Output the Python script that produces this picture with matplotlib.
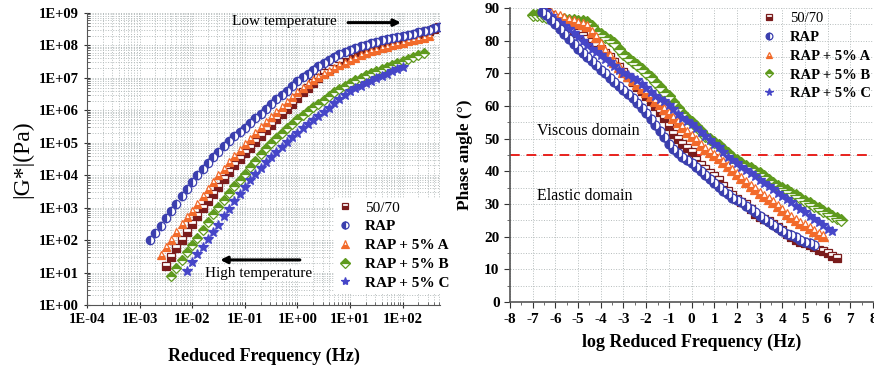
import numpy as np
import matplotlib.pyplot as plt
from matplotlib.ticker import LogLocator, MultipleLocator, NullFormatter

plt.rcParams['font.family'] = ['Liberation Serif', 'DejaVu Serif']
plt.rcParams['axes.unicode_minus'] = False

# ---- 左图: |G*| 主曲线 (log10 频率, log10 G*) ----
labels = ['50/70', 'RAP', 'RAP + 5% A', 'RAP + 5% B', 'RAP + 5% C']

g_logf_5070 = [-2.5, -2.4, -2.3, -2.2, -2.1, -2.0, -1.9, -1.8, -1.7, -1.6, -1.5, -1.4, -1.3, -1.2,
               -1.1, -1.0, -0.9, -0.8, -0.7, -0.6, -0.5, -0.4, -0.3, -0.2, -0.1, 0.0, 0.1, 0.2,
               0.3, 0.4, 0.5, 0.6, 0.7, 0.8, 0.9, 1.0, 1.1, 1.2, 1.3, 1.4, 1.5, 1.6, 1.7, 1.8,
               1.9, 2.0, 2.1, 2.2, 2.3, 2.4, 2.5, 2.6, 2.7]
g_logG_5070 = [1.20, 1.48, 1.75, 2.00, 2.25, 2.50, 2.75, 2.98, 3.20, 3.42, 3.65, 3.88, 4.10, 4.30,
               4.50, 4.68, 4.85, 5.02, 5.20, 5.38, 5.55, 5.72, 5.90, 6.05, 6.20, 6.38, 6.55, 6.70,
               6.85, 7.00, 7.15, 7.28, 7.40, 7.50, 7.60, 7.70, 7.78, 7.85, 7.92, 7.97, 8.02, 8.06,
               8.10, 8.14, 8.18, 8.22, 8.26, 8.30, 8.35, 8.40, 8.45, 8.50, 8.55]

g_logf_rap = [-2.8, -2.7, -2.6, -2.5, -2.4, -2.3, -2.2, -2.1, -2.0, -1.9, -1.8, -1.7, -1.6, -1.5,
              -1.4, -1.3, -1.2, -1.1, -1.0, -0.9, -0.8, -0.7, -0.6, -0.5, -0.4, -0.3, -0.2, -0.1,
              0.0, 0.1, 0.2, 0.3, 0.4, 0.5, 0.6, 0.7, 0.8, 0.9, 1.0, 1.1, 1.2, 1.3, 1.4, 1.5,
              1.6, 1.7, 1.8, 1.9, 2.0, 2.1, 2.2, 2.3, 2.4, 2.5, 2.6, 2.7]
g_logG_rap = [2.00, 2.22, 2.45, 2.68, 2.90, 3.12, 3.35, 3.58, 3.80, 4.00, 4.20, 4.38, 4.55, 4.73,
              4.90, 5.05, 5.20, 5.32, 5.45, 5.60, 5.75, 5.90, 6.05, 6.20, 6.35, 6.48, 6.60, 6.75,
              6.90, 7.01, 7.12, 7.24, 7.35, 7.45, 7.55, 7.64, 7.72, 7.80, 7.87, 7.92, 7.97, 8.02,
              8.07, 8.11, 8.15, 8.19, 8.22, 8.25, 8.28, 8.32, 8.36, 8.40, 8.44, 8.48, 8.52, 8.55]

g_logf_a = [-2.6, -2.5, -2.4, -2.3, -2.2, -2.1, -2.0, -1.9, -1.8, -1.7, -1.6, -1.5, -1.4, -1.3,
            -1.2, -1.1, -1.0, -0.9, -0.8, -0.7, -0.6, -0.5, -0.4, -0.3, -0.2, -0.1, 0.0, 0.1,
            0.2, 0.3, 0.4, 0.5, 0.6, 0.7, 0.8, 0.9, 1.0, 1.1, 1.2, 1.3, 1.4, 1.5, 1.6, 1.7,
            1.8, 1.9, 2.0, 2.1, 2.2, 2.3, 2.4, 2.5]
g_logG_a = [1.55, 1.78, 2.00, 2.25, 2.50, 2.70, 2.90, 3.12, 3.35, 3.58, 3.80, 4.00, 4.20, 4.40,
            4.60, 4.78, 4.95, 5.12, 5.30, 5.48, 5.65, 5.80, 5.95, 6.10, 6.25, 6.40, 6.55, 6.68,
            6.82, 6.92, 7.02, 7.11, 7.20, 7.29, 7.38, 7.46, 7.55, 7.62, 7.70, 7.76, 7.82, 7.87,
            7.92, 7.96, 8.00, 8.04, 8.08, 8.12, 8.16, 8.20, 8.24, 8.28]

g_logf_b = [-2.4, -2.3, -2.2, -2.1, -2.0, -1.9, -1.8, -1.7, -1.6, -1.5, -1.4, -1.3, -1.2, -1.1,
            -1.0, -0.9, -0.8, -0.7, -0.6, -0.5, -0.4, -0.3, -0.2, -0.1, 0.0, 0.1, 0.2, 0.3,
            0.4, 0.5, 0.6, 0.7, 0.8, 0.9, 1.0, 1.1, 1.2, 1.3, 1.4, 1.5, 1.6, 1.7, 1.8, 1.9,
            2.0, 2.1, 2.2, 2.3, 2.4]
g_logG_b = [0.90, 1.15, 1.40, 1.62, 1.85, 2.08, 2.32, 2.56, 2.80, 3.02, 3.25, 3.46, 3.68, 3.86,
            4.05, 4.25, 4.45, 4.65, 4.85, 5.00, 5.15, 5.30, 5.45, 5.58, 5.72, 5.85, 5.98, 6.09,
            6.20, 6.32, 6.45, 6.55, 6.65, 6.75, 6.85, 6.92, 7.00, 7.08, 7.15, 7.22, 7.28, 7.34,
            7.40, 7.46, 7.52, 7.58, 7.63, 7.69, 7.75]

g_logf_c = [-2.1, -2.0, -1.9, -1.8, -1.7, -1.6, -1.5, -1.4, -1.3, -1.2, -1.1, -1.0, -0.9, -0.8,
            -0.7, -0.6, -0.5, -0.4, -0.3, -0.2, -0.1, 0.0, 0.1, 0.2, 0.3, 0.4, 0.5, 0.6,
            0.7, 0.8, 0.9, 1.0, 1.1, 1.2, 1.3, 1.4, 1.5, 1.6, 1.7, 1.8, 1.9, 2.0]
g_logG_c = [1.05, 1.32, 1.57, 1.80, 2.03, 2.26, 2.48, 2.73, 2.97, 3.20, 3.42, 3.64, 3.85, 4.03,
            4.21, 4.40, 4.57, 4.73, 4.88, 5.03, 5.17, 5.30, 5.44, 5.57, 5.70, 5.82, 5.95, 6.08,
            6.22, 6.35, 6.48, 6.60, 6.68, 6.75, 6.83, 6.90, 6.98, 7.05, 7.13, 7.20, 7.27, 7.33]

# ---- 右图: 相位角 (log10 频率, 度) ----
p_logf_5070 = [-6.4, -6.2, -6.0, -5.8, -5.6, -5.4, -5.2, -5.0, -4.8, -4.6, -4.4, -4.2, -4.0, -3.8,
               -3.6, -3.4, -3.2, -3.0, -2.8, -2.6, -2.4, -2.2, -2.0, -1.8, -1.6, -1.4, -1.2, -1.0,
               -0.8, -0.6, -0.4, -0.2, 0.0, 0.2, 0.4, 0.6, 0.8, 1.0, 1.2, 1.4, 1.6, 1.8, 2.0, 2.2,
               2.4, 2.6, 2.8, 3.0, 3.2, 3.4, 3.6, 3.8, 4.0, 4.2, 4.4, 4.6, 4.8, 5.0, 5.2, 5.4,
               5.6, 5.8, 6.0, 6.2, 6.4]
p_delta_5070 = [88.8, 88.0, 87.0, 86.0, 85.0, 84.0, 83.0, 82.3, 81.5, 80.5, 79.5, 78.5, 77.5, 76.3,
                75.0, 73.5, 72.0, 70.5, 69.0, 67.5, 66.0, 64.5, 63.0, 61.5, 60.0, 58.3, 56.5, 54.0,
                51.5, 50.0, 48.5, 47.2, 46.0, 43.5, 42.0, 40.8, 39.5, 38.5, 37.5, 35.5, 34.0, 32.7,
                31.5, 30.7, 30.0, 28.5, 27.0, 26.2, 25.5, 24.7, 24.0, 23.0, 22.0, 20.8, 19.8, 19.1,
                18.5, 18.0, 17.5, 16.8, 16.0, 15.6, 15.0, 14.2, 13.5]

p_logf_rap = [-6.6, -6.4, -6.2, -6.0, -5.8, -5.6, -5.4, -5.2, -5.0, -4.8, -4.6, -4.4, -4.2, -4.0,
              -3.8, -3.6, -3.4, -3.2, -3.0, -2.8, -2.6, -2.4, -2.2, -2.0, -1.8, -1.6, -1.4, -1.2,
              -1.0, -0.8, -0.6, -0.4, -0.2, 0.0, 0.2, 0.4, 0.6, 0.8, 1.0, 1.2, 1.4, 1.6, 1.8, 2.0,
              2.2, 2.4, 2.6, 2.8, 3.0, 3.2, 3.4, 3.6, 3.8, 4.0, 4.2, 4.4, 4.6, 4.8, 5.0, 5.2, 5.4]
p_delta_rap = [88.8, 88.0, 86.5, 85.0, 83.5, 82.0, 80.5, 79.0, 77.5, 76.2, 75.0, 73.7, 72.5, 71.2,
               70.0, 68.7, 67.5, 66.2, 65.0, 63.7, 62.5, 61.0, 59.5, 57.8, 56.0, 54.2, 52.5, 50.5,
               48.5, 47.0, 45.5, 44.5, 43.5, 42.5, 41.5, 40.2, 39.0, 37.7, 36.5, 35.2, 34.0, 33.0,
               32.0, 31.2, 30.5, 29.5, 28.5, 27.5, 26.5, 25.5, 24.5, 23.6, 22.8, 21.9, 21.0, 20.4,
               19.8, 19.1, 18.5, 18.0, 17.6]

p_logf_a = [-6.2, -6.0, -5.8, -5.6, -5.4, -5.2, -5.0, -4.8, -4.6, -4.4, -4.2, -4.0, -3.8, -3.6,
            -3.4, -3.2, -3.0, -2.8, -2.6, -2.4, -2.2, -2.0, -1.8, -1.6, -1.4, -1.2, -1.0, -0.8,
            -0.6, -0.4, -0.2, 0.0, 0.2, 0.4, 0.6, 0.8, 1.0, 1.2, 1.4, 1.6, 1.8, 2.0, 2.2, 2.4,
            2.6, 2.8, 3.0, 3.2, 3.4, 3.6, 3.8, 4.0, 4.2, 4.4, 4.6, 4.8, 5.0, 5.2, 5.4, 5.6, 5.8]
p_delta_a = [88.5, 88.0, 87.5, 87.0, 86.5, 86.0, 85.5, 85.0, 84.5, 82.8, 81.0, 79.0, 77.0, 75.2,
             73.5, 72.0, 70.5, 69.2, 68.0, 66.7, 65.5, 64.2, 63.0, 61.7, 60.5, 59.2, 58.0, 56.5,
             55.0, 53.5, 52.0, 50.7, 49.5, 48.2, 47.0, 46.0, 45.0, 44.0, 43.0, 41.7, 40.5, 39.2,
             38.0, 36.7, 35.5, 34.5, 33.5, 32.5, 31.5, 30.5, 29.5, 28.2, 27.0, 26.0, 25.0, 24.2,
             23.5, 22.6, 21.8, 21.0, 20.2]

p_logf_b = [-7.0, -6.8, -6.6, -6.4, -6.2, -6.0, -5.8, -5.6, -5.4, -5.2, -5.0, -4.8, -4.6, -4.4,
            -4.2, -4.0, -3.8, -3.6, -3.4, -3.2, -3.0, -2.8, -2.6, -2.4, -2.2, -2.0, -1.8, -1.6,
            -1.4, -1.2, -1.0, -0.8, -0.6, -0.4, -0.2, 0.0, 0.2, 0.4, 0.6, 0.8, 1.0, 1.2, 1.4,
            1.6, 1.8, 2.0, 2.2, 2.4, 2.6, 2.8, 3.0, 3.2, 3.4, 3.6, 3.8, 4.0, 4.2, 4.4, 4.6,
            4.8, 5.0, 5.2, 5.4, 5.6, 5.8, 6.0, 6.2, 6.4, 6.6]
p_delta_b = [88.0, 87.8, 87.6, 87.4, 87.2, 87.0, 86.8, 86.6, 86.4, 86.3, 86.2, 86.0, 85.8, 84.4,
             83.0, 82.0, 81.0, 80.1, 79.2, 77.6, 76.0, 74.7, 73.5, 72.5, 71.5, 70.1, 68.8, 67.3,
             65.8, 64.4, 63.0, 61.2, 59.5, 58.0, 56.5, 55.2, 54.0, 52.5, 51.0, 50.0, 49.0, 48.0,
             47.0, 45.7, 44.5, 43.5, 42.5, 41.7, 41.0, 40.2, 39.5, 38.5, 37.5, 36.5, 35.5, 34.8,
             34.2, 33.5, 32.8, 31.9, 31.0, 30.2, 29.5, 28.7, 28.0, 27.2, 26.5, 25.7, 25.2]

p_logf_c = [-6.4, -6.2, -6.0, -5.8, -5.6, -5.4, -5.2, -5.0, -4.8, -4.6, -4.4, -4.2, -4.0, -3.8,
            -3.6, -3.4, -3.2, -3.0, -2.8, -2.6, -2.4, -2.2, -2.0, -1.8, -1.6, -1.4, -1.2, -1.0,
            -0.8, -0.6, -0.4, -0.2, 0.0, 0.2, 0.4, 0.6, 0.8, 1.0, 1.2, 1.4, 1.6, 1.8, 2.0, 2.2,
            2.4, 2.6, 2.8, 3.0, 3.2, 3.4, 3.6, 3.8, 4.0, 4.2, 4.4, 4.6, 4.8, 5.0, 5.2, 5.4,
            5.6, 5.8, 6.0, 6.2]
p_delta_c = [89.0, 87.7, 86.5, 85.5, 84.5, 83.5, 82.5, 81.2, 80.0, 78.7, 77.5, 76.5, 75.5, 74.5,
             73.5, 72.2, 71.0, 70.2, 69.5, 68.7, 68.0, 66.7, 65.5, 64.2, 63.0, 62.2, 61.5, 60.2,
             59.0, 57.7, 56.5, 55.5, 54.5, 53.2, 52.0, 50.7, 49.5, 48.5, 47.5, 46.0, 44.5, 43.5,
             42.5, 41.5, 40.5, 39.5, 38.5, 37.5, 36.5, 35.5, 34.5, 33.5, 32.5, 31.5, 30.5, 29.5,
             28.5, 27.5, 26.5, 25.5, 24.5, 23.5, 22.5, 21.8]

colors = ['#7a1c1c', '#3b3fae', '#f26a2a', '#5f9a1e', '#4646c8']
markers = ['s', 'o', '^', 'D', '*']
fills = ['bottom', 'left', 'bottom', 'top', 'full']
sizes = [5.5, 6, 6, 5.5, 7]
z_left = [3, 4, 3.5, 2.5, 3.8]
z_right = [3, 5, 3.5, 2, 4]

g_data = [(g_logf_5070, g_logG_5070), (g_logf_rap, g_logG_rap), (g_logf_a, g_logG_a),
          (g_logf_b, g_logG_b), (g_logf_c, g_logG_c)]
p_data = [(p_logf_5070, p_delta_5070), (p_logf_rap, p_delta_rap), (p_logf_a, p_delta_a),
          (p_logf_b, p_delta_b), (p_logf_c, p_delta_c)]

fig = plt.figure(figsize=(8.74, 3.68), dpi=100)
ax1 = fig.add_axes([0.0995, 0.171, 0.4045, 0.794])
ax2 = fig.add_axes([0.5835, 0.179, 0.4155, 0.799])

grid_kw = dict(color='#b5bcbc', linestyle=':', linewidth=0.7)

# 左图
for (x, y), c, m, fs, s, z, lab in zip(g_data, colors, markers, fills, sizes, z_left, labels):
    ax1.plot(10 ** np.array(x), 10 ** np.array(y), linestyle='none', marker=m, ms=s,
             color=c, markerfacecolor=c, markerfacecoloralt='white', fillstyle=fs,
             markeredgecolor=c, markeredgewidth=0.9, zorder=z, label=lab)

ax1.set_xscale('log')
ax1.set_yscale('log')
ax1.set_xlim(1e-4, 10 ** 2.72)
ax1.set_ylim(1, 1e9)
ax1.xaxis.set_minor_locator(LogLocator(base=10, subs=np.arange(2, 10), numticks=20))
ax1.yaxis.set_minor_locator(LogLocator(base=10, subs=np.arange(2, 10), numticks=20))
ax1.xaxis.set_minor_formatter(NullFormatter())
ax1.yaxis.set_minor_formatter(NullFormatter())
xt = [1e-4, 1e-3, 1e-2, 1e-1, 1, 10, 100]
ax1.set_xticks(xt)
ax1.set_xticklabels(['1E-04', '1E-03', '1E-02', '1E-01', '1E+00', '1E+01', '1E+02'])
yt = [10.0 ** k for k in range(10)]
ax1.set_yticks(yt)
ax1.set_yticklabels(['1E+%02d' % k for k in range(10)])
ax1.grid(True, which='both', **grid_kw)
ax1.set_axisbelow(True)
for sp in ['top', 'right']:
    ax1.spines[sp].set_visible(False)
for sp in ['left', 'bottom']:
    ax1.spines[sp].set_color('#555555')
ax1.tick_params(which='major', direction='inout', length=5, labelsize=10.5, colors='#333333',
                labelcolor='black')
ax1.tick_params(which='minor', direction='in', length=2.5, colors='#555555')
for t in ax1.get_xticklabels() + ax1.get_yticklabels():
    t.set_fontweight('bold')
ax1.set_xlabel('Reduced Frequency (Hz)', fontsize=13, fontweight='bold', labelpad=15)
ax1.set_ylabel('|G*|(Pa)', fontsize=17, labelpad=4)

ax1.annotate('', xy=(10 ** 2.02, 10 ** 8.7), xytext=(10 ** 0.91, 10 ** 8.7),
             arrowprops=dict(arrowstyle='-|>', color='black', lw=2.2, mutation_scale=10))
ax1.text(10 ** 0.74, 10 ** 8.72, 'Low temperature', ha='right', va='center', fontsize=11)
ax1.annotate('', xy=(10 ** -1.52, 10 ** 1.39), xytext=(10 ** 0.1, 10 ** 1.39),
             arrowprops=dict(arrowstyle='-|>', color='black', lw=2.2, mutation_scale=10))
ax1.text(10 ** -0.74, 10 ** 0.98, 'High temperature', ha='center', va='center', fontsize=11,
         bbox=dict(facecolor='white', edgecolor='none', pad=0.5))

leg1 = ax1.legend(loc='upper left', bbox_to_anchor=(0.3826, 0.462), bbox_transform=fig.transFigure,
                  frameon=True, fancybox=False, edgecolor='none', framealpha=1,
                  prop=dict(size=11, weight='bold'), markerscale=0.85,
                  handlelength=1.0, handletextpad=0.81, labelspacing=0.33,
                  borderpad=0.2, borderaxespad=0)
leg1.get_texts()[0].set_fontweight('normal')
leg1.set_zorder(10)

# 右图
for (x, y), c, m, fs, s, z, lab in zip(p_data, colors, markers, fills, sizes, z_right, labels):
    ax2.plot(x, y, linestyle='none', marker=m, ms=s + 0.5,
             color=c, markerfacecolor=c, markerfacecoloralt='white', fillstyle=fs,
             markeredgecolor=c, markeredgewidth=0.9, zorder=z, label=lab)

ax2.axhline(45, color='#e8211d', linestyle=(0, (5, 3.5)), lw=1.4, zorder=1.5)
ax2.text(-6.8, 52.5, 'Viscous domain', fontsize=11.5, va='center')
ax2.text(-6.8, 32.5, 'Elastic domain', fontsize=11.5, va='center')

ax2.set_xlim(-8, 8)
ax2.set_ylim(0, 90)
ax2.xaxis.set_major_locator(MultipleLocator(1))
ax2.xaxis.set_minor_locator(MultipleLocator(0.5))
ax2.yaxis.set_major_locator(MultipleLocator(10))
ax2.yaxis.set_minor_locator(MultipleLocator(5))
ax2.grid(True, which='major', axis='x', **grid_kw)
ax2.grid(True, which='both', axis='y', **grid_kw)
ax2.set_axisbelow(True)
for sp in ['top', 'right']:
    ax2.spines[sp].set_visible(False)
for sp in ['left', 'bottom']:
    ax2.spines[sp].set_color('#555555')
    ax2.spines[sp].set_linewidth(1.2)
ax2.tick_params(which='major', direction='out', length=4, labelsize=11, colors='#333333',
                labelcolor='black')
ax2.tick_params(which='minor', direction='out', length=2, colors='#555555')
for t in ax2.get_xticklabels() + ax2.get_yticklabels():
    t.set_fontweight('bold')
ax2.set_xlabel('log Reduced Frequency (Hz)', fontsize=13, fontweight='bold', labelpad=6)
ax2.set_ylabel('Phase angle (\u00b0)', fontsize=12.5, fontweight='bold', labelpad=8)

leg2 = ax2.legend(loc='upper left', bbox_to_anchor=(0.8715, 0.967), bbox_transform=fig.transFigure,
                  frameon=False, prop=dict(size=10.5, weight='bold'), markerscale=0.75,
                  handlelength=1.0, handletextpad=0.94, labelspacing=0.38,
                  borderpad=0, borderaxespad=0)
leg2.get_texts()[0].set_fontweight('normal')

plt.savefig('out.png', dpi=100)
